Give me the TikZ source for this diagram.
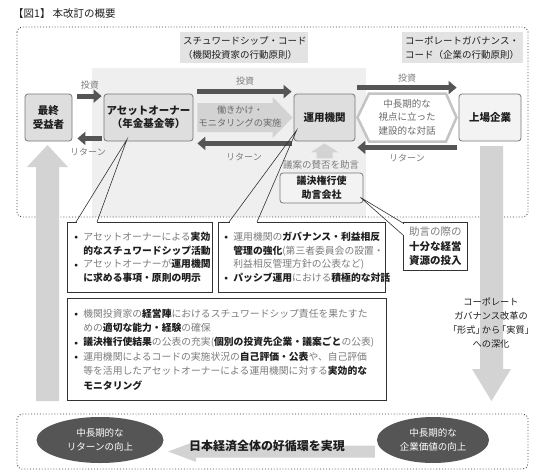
\documentclass[tikz,border=0pt]{standalone}
\usepackage{fontspec}
\setmainfont{Noto Sans CJK JP}
\usetikzlibrary{arrows.meta,calc,shapes.geometric}
\definecolor{darkarr}{HTML}{555555}
\definecolor{lightarr}{HTML}{D3D3D3}
\definecolor{regiongray}{HTML}{EFEFEF}
\definecolor{labelgray}{HTML}{E3E3E3}
\definecolor{boxgray}{HTML}{DEDEDE}
\definecolor{jkfill}{HTML}{F3F3F3}
\definecolor{gkfill}{HTML}{F3F3F3}
\definecolor{boxborder}{HTML}{777777}
\definecolor{cborder}{HTML}{333333}
\definecolor{txtgray}{HTML}{7C7C7C}
\definecolor{worktxt}{HTML}{6A6A6A}
\definecolor{txtdark}{HTML}{1E1E1E}
\definecolor{ellfill}{HTML}{555555}
\definecolor{dotcol}{HTML}{444444}
\definecolor{hexcol}{HTML}{C4C4C4}
\newcommand{\btx}[1]{\textbf{\textcolor{txtdark}{#1}}}
\newcommand{\bul}{\makebox[9pt][l]{\textcolor{txtdark}{\raisebox{0.15ex}{\scalebox{0.75}{$\bullet$}}}}}
\newcommand{\ind}{\hspace*{9pt}}
\begin{document}
\begin{tikzpicture}[x=1pt,y=-1pt,
  darr/.style={draw=darkarr, line width=5pt, -{Triangle[length=8pt,width=13pt]}},
  mbox/.style={draw=boxborder, line width=0.8pt, rounded corners=3pt, fill=boxgray, text=txtdark,
    font=\fontsize{10.5}{13.5}\selectfont\bfseries, align=center, inner sep=0pt, minimum height=47pt},
  labbox/.style={fill=labelgray, text=txtdark, font=\fontsize{9.5}{14}\selectfont, align=left,
    inner xsep=3pt, inner ysep=0pt, minimum height=31pt, anchor=north west},
  albl/.style={text=txtgray, font=\fontsize{9}{11}\selectfont, inner sep=0pt},
  cbox/.style={draw=cborder, line width=0.8pt, fill=white, text=txtgray,
    font=\fontsize{9.8}{13.6}\selectfont, align=left, inner ysep=0pt, anchor=north west},
  wedge/.style={draw=cborder, line width=0.6pt, line join=miter},
  gap/.style={draw=white, line width=1.6pt},
  dotbox/.style={draw=dotcol, line width=0.9pt, dotted, rounded corners=5pt},
  ell/.style={ellipse, fill=ellfill, text=white, font=\fontsize{9.5}{13.5}\selectfont, align=center, inner sep=0pt},
]
\useasboundingbox (0,0) rectangle (550,472);
\fill[white] (0,0) rectangle (550,472);

% title
\node[anchor=west, inner sep=0pt, text=txtdark, font=\fontsize{10.5}{12}\selectfont] (title) at (13,14) {【図1】\hspace{2pt}本改訂の概要};

% regions
\fill[regiongray] (92,68) rectangle (366,217);
\draw[dotbox] (17,27) rectangle (528,217);
\draw[dotbox] (17,414) rectangle (528,469);

% code labels
\node[labbox, text width=122pt] (scode) at (180,32) {スチュワードシップ・コード\\（機関投資家の行動原則）};
\node[labbox, text width=115pt] (ccode) at (402,32) {コーポレートガバナンス・\\コード（企業の行動原則）};

% big side arrows
\fill[lightarr] (36,401) -- (36,167) -- (27,167) -- (47.5,145) -- (68,167) -- (59,167) -- (59,401) -- cycle;
\fill[lightarr] (480,146) -- (503,146) -- (503,369) -- (511,369) -- (491.5,401) -- (472,369) -- (480,369) -- cycle;
\node[text=txtdark, font=\fontsize{9.2}{13.8}\selectfont, align=center, inner sep=0pt] (cgr) at (491,323)
  {コーポレート\\ガバナンス改革の\\「形式」\kern-3pt から\kern-3pt 「実質」\\への深化};

% main boxes
\node[mbox, minimum width=47pt] (fb) at (48.5,117.5) {最終\\受益者};
\node[mbox, minimum width=89pt] (ao) at (148.5,117.5) {アセットオーナー\\（年金基金等）};
\node[mbox, minimum width=61pt] (um) at (324.5,117.5) {運用機関};
\node[mbox, minimum width=62pt, fill=jkfill] (jk) at (490,117.5) {上場企業};

% work arrow
\coordinate (wa) at ([xshift=4pt]ao.east);
\coordinate (wb) at ([xshift=-1pt]um.west);
\fill[lightarr] ($(wa)+(0,-14.5)$) -- ($(wb)+(-20,-14.5)$) -- ($(wb)+(-20,-20.5)$) -- (wb)
  -- ($(wb)+(-20,20.5)$) -- ($(wb)+(-20,14.5)$) -- ($(wa)+(0,14.5)$) -- cycle;
\node[font=\fontsize{9.2}{13}\selectfont, text=worktxt, align=center, inner sep=0pt] (work) at (240,116.5)
  {働きかけ・\\モニタリングの実施};

% dialogue hexagon
\draw[hexcol, line width=2.5pt, fill=white, line join=miter]
  (357.5,117.5) -- (369,93.5) -- (446,93.5) -- (456.5,117.5) -- (446,141.5) -- (369,141.5) -- cycle;
\node[font=\fontsize{9.5}{13.5}\selectfont, text=worktxt, align=center, inner sep=0pt] (dlg) at (407,117)
  {中長期的な\\視点に立った\\建設的な対話};

% dark arrows
\draw[darr] ([xshift=5pt,yshift=-2.5pt]fb.north east) -- ([xshift=-2pt,yshift=-2.5pt]ao.north west);
\draw[darr] ([xshift=-2pt,yshift=3pt]ao.south west) -- ([xshift=5pt,yshift=3pt]fb.south east);
\draw[darr] ([xshift=4pt,yshift=2pt]ao.north east) -- ([xshift=-2pt,yshift=2pt]um.north west);
\draw[darr] ([xshift=-2pt,yshift=-2pt]um.south west) -- ([xshift=4pt,yshift=-2pt]ao.south east);
\draw[darr] ([xshift=2pt,yshift=6pt]um.north east) -- ([xshift=-2pt,yshift=6pt]jk.north west);
\draw[darr] ([xshift=-2pt,yshift=-6pt]jk.south west) -- ([xshift=2pt,yshift=-6pt]um.south east);

\node[albl] (t1) at (90,85) {投資};
\node[albl] (r1) at (88,152) {リターン};
\node[albl] (t2) at (245,81) {投資};
\node[albl] (r2) at (244,157) {リターン};
\node[albl] (t3) at (407,78) {投資};
\node[albl] (r3) at (407,158) {リターン};

% proxy advisor
\coordinate (ut) at ([yshift=-2pt]um.south);
\fill[lightarr] (ut) -- ++(14,9) -- ++(-6,0) -- ++(0,6) -- ++(-16,0) -- ++(0,-6) -- ++(-6,0) -- cycle;
\node[albl, font=\fontsize{9.5}{11}\selectfont] (gian) at (321,164.5) {議案の賛否を助言};
\node[mbox, minimum width=83pt, minimum height=30pt, fill=gkfill, font=\fontsize{10}{14}\selectfont\bfseries] (gk) at (321.5,188) {議決権行使\\助言会社};

% callouts
\node[cbox, text width=131pt, inner xsep=7pt, minimum height=70pt] (c1) at (67,222)
  {\bul アセットオーナーによる\btx{実効}\\
   \ind\btx{的なスチュワードシップ活動}\\
   \bul アセットオーナーが\btx{運用機関}\\
   \ind\btx{に求める事項・原則の明示}};
\node[cbox, text width=155pt, inner xsep=6pt, minimum height=70pt] (c2) at (218,222)
  {\bul 運用機関の\btx{ガバナンス・利益相反}\\
   \ind\btx{管理の強化}(第三者委員会の設置・\\
   \ind 利益相反管理方針の公表など)\\
   \bul\btx{パッシブ運用}における\btx{積極的な対話}};
\node[cbox, text width=305pt, inner xsep=7pt, minimum height=102pt, font=\fontsize{9.8}{14.4}\selectfont] (c3) at (67,298)
  {\bul 機関投資家の\btx{経営陣}におけるスチュワードシップ責任を果たすた\\
   \ind めの\btx{適切な能力・経験}の確保\\
   \bul\btx{議決権行使結果}の公表の充実(\btx{個別の投資先企業・議案ごと}の公表)\\
   \bul 運用機関によるコードの実施状況の\btx{自己評価・公表}や、自己評価\\
   \ind 等を活用したアセットオーナーによる運用機関に対する\btx{実効的な}\\
   \ind\btx{モニタリング}};
\node[cbox, text width=64pt, inner xsep=0pt, minimum height=48pt, align=center, font=\fontsize{10.5}{14.5}\selectfont] (c4) at (403,222)
  {助言の際の\\\btx{十分な経営}\\\btx{資源の投入}};

% callout wedges
\draw[gap] ([xshift=9.5pt]c1.north west) -- ([xshift=29.5pt]c1.north west);
\draw[wedge] ([xshift=9pt]c1.north west) -- ([xshift=-21.5pt,yshift=2pt]ao.south) -- ([xshift=30pt]c1.north west);
\draw[gap] ([xshift=11.5pt]c2.north west) -- ([xshift=38.5pt]c2.north west);
\draw[wedge] ([xshift=11pt]c2.north west) -- ([xshift=3pt,yshift=11pt]um.south west) -- ([xshift=39pt]c2.north west);
\draw[gap] ([yshift=-1.5pt]c4.north west) -- ([yshift=-12.5pt]c4.north west);
\draw[wedge] ([yshift=-1pt]c4.north west) -- ([xshift=-3pt,yshift=6pt]gk.south east) -- ([yshift=-13pt]c4.north west);

% bottom
\node[ell, minimum width=127pt, minimum height=46pt] (el) at (100,440) {中長期的な\\リターンの向上};
\node[ell, minimum width=112pt, minimum height=46pt] (er) at (433,440) {中長期的な\\企業価値の向上};
\coordinate (bt) at ([xshift=-2pt,yshift=-11.5pt]er.west);
\coordinate (bh) at ([xshift=4.5pt,yshift=-11.5pt]el.east);
\fill[lightarr] ($(bt)+(0,-6)$) -- ($(bh)+(28,-6)$) -- ($(bh)+(28,-10.5)$) -- (bh) -- ($(bh)+(28,10.5)$) -- ($(bh)+(28,6)$) -- ($(bt)+(0,6)$) -- cycle;
\node[inner sep=0pt, text=txtdark, font=\fontsize{12}{14}\selectfont\bfseries] (kj) at (267,446) {日本経済全体の好循環を実現};
\end{tikzpicture}
\end{document}
